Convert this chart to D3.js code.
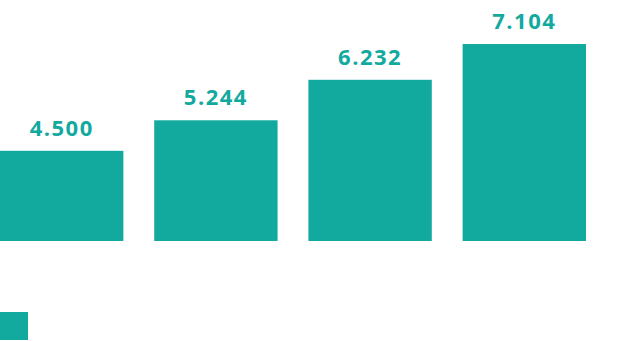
<!DOCTYPE html>
<html>
<head>
<meta charset="utf-8">
<script src="https://cdn.jsdelivr.net/npm/d3@7"></script>
<style>
  html, body { margin: 0; padding: 0; background: #fff; }
  svg { display: block; }
  .label { font-family: "Open Sans", sans-serif; font-weight: 700; font-size: 22px; letter-spacing: 1.5px; }
</style>
</head>
<body>
<svg id="chart" width="644" height="341"></svg>
<script>
const categories = ['Q1', 'Q2', 'Q3', 'Q4'];
const values = [4.5, 5.244, 6.232, 7.104];
const labels = ['4.500', '5.244', '6.232', '7.104'];
const legendItems = ['Series 1'];

const width = 644;
const height = 341;
const barColor = '#12a99f';

const svg = d3.select('#chart');

// bars start at the left edge, no axes shown
const x = d3.scaleBand()
  .domain(categories)
  .range([0, 586])
  .paddingInner(0.2)
  .paddingOuter(0);

const y = d3.scaleLinear()
  .domain([2.3, 7.3])
  .range([241, 36]);

const data = categories.map((c, i) => ({ cat: c, value: values[i], label: labels[i] }));

svg.append('g')
  .selectAll('rect')
  .data(data).enter()
  .append('rect')
  .attr('x', d => x(d.cat))
  .attr('y', d => y(d.value))
  .attr('width', x.bandwidth())
  .attr('height', d => y.range()[0] - y(d.value))
  .attr('fill', barColor);

svg.append('g')
  .selectAll('text')
  .data(data).enter()
  .append('text')
  .attr('class', 'label')
  .attr('x', d => x(d.cat) + x.bandwidth() / 2)
  .attr('y', d => y(d.value) - 15)
  .attr('text-anchor', 'middle')
  .attr('fill', barColor)
  .text(d => d.label);

// legend swatch only, its text falls outside the view
svg.append('g')
  .selectAll('rect')
  .data(legendItems).enter()
  .append('rect')
  .attr('x', 0)
  .attr('y', 312)
  .attr('width', 28)
  .attr('height', 28)
  .attr('fill', barColor);
</script>
</body>
</html>
